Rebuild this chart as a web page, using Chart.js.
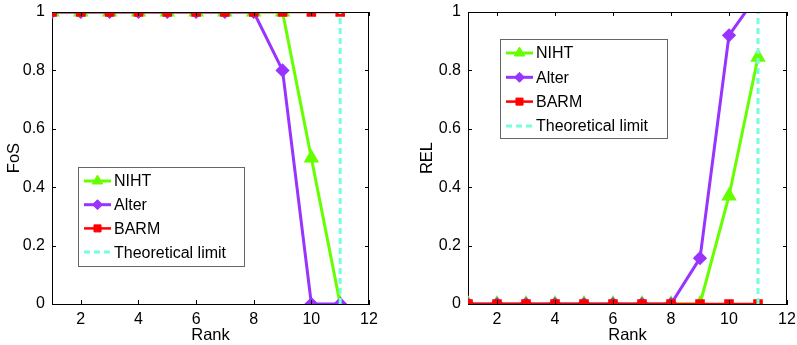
<!DOCTYPE html>
<html>
<head>
<meta charset="utf-8">
<script src="https://cdn.jsdelivr.net/npm/chart.js@4/dist/chart.umd.min.js"></script>
<style>
  html, body { margin: 0; padding: 0; background: #fff; }
  #wrap { width: 797px; height: 345px; position: relative; }
  .box { position: absolute; top: 0; height: 345px; }
  #boxL { left: 0; width: 400px; }
  #boxR { left: 400px; width: 397px; }
</style>
</head>
<body>
<div id="wrap">
  <div class="box" id="boxL"><canvas id="fosChart"></canvas></div>
  <div class="box" id="boxR"><canvas id="relChart"></canvas></div>
</div>
<script>
// --- data ---
const ranks = [1, 2, 3, 4, 5, 6, 7, 8, 9, 10, 11];
const xTicks = [2, 4, 6, 8, 10, 12];
const yTicks = [0, 0.2, 0.4, 0.6, 0.8, 1];

const nihtFoS  = [1, 1, 1, 1, 1, 1, 1, 1, 1, 0.5, 0];
const alterFoS = [1, 1, 1, 1, 1, 1, 1, 1, 0.8, 0, 0];
const barmFoS  = [1, 1, 1, 1, 1, 1, 1, 1, 1, 1, 1];

const nihtREL  = [0, 0, 0, 0, 0, 0, 0, 0, 0, 0.37, 0.845];
const alterREL = [0, 0, 0, 0, 0, 0, 0, 0, 0.157, 0.92, 1.06];
const barmREL  = [0, 0, 0, 0, 0, 0, 0, 0, 0, 0, 0];

const limitRank = 11;
const limitY = [0, 1];

const seriesNames = ['NIHT', 'Alter', 'BARM', 'Theoretical limit'];

// --- style ---
const GREEN = '#66ff00';
const PURPLE = '#9933ff';
const RED = '#ff0000';
const CYAN = '#77ffdd';
const FONT = "'Liberation Sans', Arial, sans-serif";

Chart.defaults.font.family = FONT;
Chart.defaults.color = '#000';

function toPts(ys) {
    return ranks.map((r, i) => ({ x: r, y: ys[i] }));
}

function makeDatasets(niht, alter, barm) {
    return [
        {
            label: seriesNames[0], data: toPts(niht), borderColor: GREEN, backgroundColor: GREEN,
            borderWidth: 3, pointStyle: 'triangle', pointRadius: 6, order: 3
        },
        {
            label: seriesNames[1], data: toPts(alter), borderColor: PURPLE, backgroundColor: PURPLE,
            borderWidth: 3, pointStyle: 'rectRot', pointRadius: 5, order: 2
        },
        {
            label: seriesNames[2], data: toPts(barm), borderColor: RED, backgroundColor: RED,
            borderWidth: 2.5, pointStyle: 'rect', pointRadius: 5, order: 1
        },
        {
            label: seriesNames[3], data: limitY.map(y => ({ x: limitRank, y: y })),
            borderColor: CYAN, borderWidth: 3, borderDash: [6, 4], pointRadius: 0, order: 0
        }
    ];
}

// kotak sumbu + tick ke dalam + legenda ala MATLAB
const matlabFrame = {
    id: 'matlabFrame',
    afterDraw(chart, args, opts) {
        const ctx = chart.ctx;
        const a = chart.chartArea;
        const xs = chart.scales.x, ys = chart.scales.y;
        ctx.save();
        ctx.strokeStyle = '#000';
        ctx.lineWidth = 1;
        ctx.beginPath();
        ctx.moveTo(a.left, a.top + 0.5); ctx.lineTo(a.right, a.top + 0.5);
        ctx.moveTo(a.right - 0.5, a.top); ctx.lineTo(a.right - 0.5, a.bottom);
        xTicks.forEach(v => {
            const px = Math.round(xs.getPixelForValue(v)) + 0.5;
            ctx.moveTo(px, a.bottom); ctx.lineTo(px, a.bottom - 4);
            ctx.moveTo(px, a.top); ctx.lineTo(px, a.top + 4);
        });
        yTicks.forEach(v => {
            const py = Math.round(ys.getPixelForValue(v)) + 0.5;
            ctx.moveTo(a.left, py); ctx.lineTo(a.left + 4, py);
            ctx.moveTo(a.right, py); ctx.lineTo(a.right - 4, py);
        });
        ctx.stroke();

        // legend
        const L = opts.legend;
        ctx.fillStyle = '#fff';
        ctx.fillRect(L.x, L.y, L.w, L.h);
        ctx.strokeStyle = '#666';
        ctx.strokeRect(L.x + 0.5, L.y + 0.5, L.w, L.h);
        chart.data.datasets.forEach((ds, i) => {
            const cy = L.y + L.first + i * L.step;
            const x0 = L.x + 6, x1 = L.x + 33;
            ctx.save();
            ctx.strokeStyle = ds.borderColor;
            ctx.lineWidth = ds.borderWidth;
            ctx.setLineDash(ds.borderDash ? [6, 4] : []);
            ctx.beginPath();
            ctx.moveTo(x0, cy); ctx.lineTo(x1, cy);
            ctx.stroke();
            ctx.restore();
            if (ds.pointRadius) {
                ctx.fillStyle = ds.backgroundColor;
                ctx.strokeStyle = ds.borderColor;
                ctx.lineWidth = 1;
                Chart.helpers.drawPoint(ctx, { pointStyle: ds.pointStyle, radius: ds.pointRadius, rotation: 0, borderWidth: 1 }, (x0 + x1) / 2, cy);
            }
            ctx.fillStyle = '#000';
            ctx.font = '16px ' + FONT;
            ctx.textBaseline = 'middle';
            ctx.textAlign = 'left';
            ctx.fillText(ds.label, L.x + 36, cy + 1);
        });
        ctx.restore();
    }
};

function makeOptions(yTitle, yWidth, legend, pad) {
    return {
        responsive: true,
        maintainAspectRatio: false,
        animation: false,
        layout: { padding: pad },
        plugins: {
            legend: { display: false },
            tooltip: { enabled: false },
            matlabFrame: { legend: legend }
        },
        scales: {
            x: {
                type: 'linear', min: 1, max: 12,
                afterBuildTicks: s => { s.ticks = xTicks.map(v => ({ value: v })); },
                afterFit: s => { s.height = 41; s.paddingLeft = 0; s.paddingRight = 0; },
                grid: { drawOnChartArea: false, drawTicks: false },
                border: { display: true, color: '#000', width: 1 },
                ticks: { font: { size: 16 }, padding: 6, maxRotation: 0 },
                title: { display: true, text: 'Rank', font: { size: 16.5 }, padding: { top: -2, bottom: 0 } }
            },
            y: {
                type: 'linear', min: 0, max: 1,
                afterBuildTicks: s => { s.ticks = yTicks.map(v => ({ value: v })); },
                afterFit: s => { s.width = yWidth; s.paddingTop = 0; s.paddingBottom = 0; },
                grid: { drawOnChartArea: false, drawTicks: false },
                border: { display: true, color: '#000', width: 1 },
                ticks: { font: { size: 16 }, padding: 7, callback: v => String(v) },
                title: { display: true, text: yTitle, font: { size: 16.5 }, padding: { top: 0, bottom: 0 } }
            }
        }
    };
}

new Chart(document.getElementById('fosChart').getContext('2d'), {
    type: 'line',
    data: { datasets: makeDatasets(nihtFoS, alterFoS, barmFoS) },
    options: makeOptions('FoS', 47,
        { x: 78, y: 167, w: 166, h: 99, first: 14, step: 23.7 },
        { left: 5, right: 31, top: 12, bottom: 0 }),
    plugins: [matlabFrame]
});

new Chart(document.getElementById('relChart').getContext('2d'), {
    type: 'line',
    data: { datasets: makeDatasets(nihtREL, alterREL, barmREL) },
    options: makeOptions('REL', 50,
        { x: 100, y: 39, w: 167, h: 99, first: 14, step: 24.3 },
        { left: 18, right: 10, top: 12, bottom: 0 }),
    plugins: [matlabFrame]
});
</script>
</body>
</html>
